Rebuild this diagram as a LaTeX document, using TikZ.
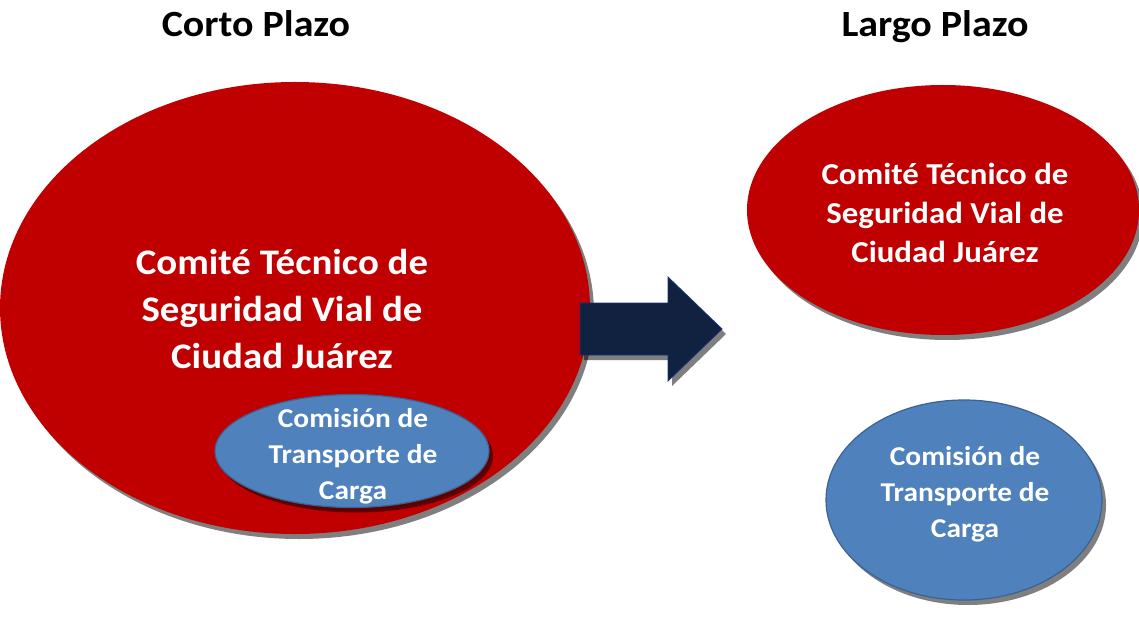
\documentclass[tikz,border=0pt]{standalone}
\usepackage{fontspec}
\setmainfont{Carlito}[FakeStretch=1.08]
\usetikzlibrary{shapes.geometric,shadows}
\definecolor{cred}{HTML}{C00000}
\definecolor{cblue}{HTML}{4F81BD}
\definecolor{cblueb}{HTML}{3A6293}
\definecolor{cnavy}{HTML}{10223F}
\definecolor{cnavyb}{HTML}{1C2F7A}
\begin{document}
\begin{tikzpicture}[x=1pt,y=-1pt,
  shad/.style={drop shadow={shadow xshift=4pt,shadow yshift=-5pt,opacity=0.5,fill=black}},
  redell/.style={ellipse,inner sep=0pt,fill=cred,shad},
  blueell/.style={ellipse,inner sep=0pt,fill=cblue,draw=cblueb,line width=1.2pt,shad},
  title/.style={font=\fontsize{37}{44}\selectfont\bfseries,text=black,anchor=base},
  bigtxt/.style={font=\fontsize{36}{47}\selectfont\bfseries,text=white,align=center},
  midtxt/.style={font=\fontsize{30.4}{39}\selectfont\bfseries,text=white,align=center},
  smalltxt/.style={font=\fontsize{27.2}{36}\selectfont\bfseries,text=white,align=center}]
\useasboundingbox (0,0) rectangle (1139,617);
\node[title] (t1) at (256,37) {Corto Plazo};
\node[title] (t2) at (935,37) {Largo Plazo};
% big red
\node[redell,minimum width=590pt,minimum height=452pt] (bigred) at (295,308) {};
\node[bigtxt] (bigtext) at (282,309) {Comité Técnico de\\Seguridad Vial de\\Ciudad Juárez};
\node[blueell,minimum width=274pt,minimum height=113pt] (smallblue) at (352,451) {};
\node[smalltxt] (smalltext) at (353,456) {Comisión de\\Transporte de\\Carga};
% arrow
\coordinate (a1) at (580,303);
\coordinate (a2) at (668,303);
\coordinate (a3) at (668,277);
\coordinate (a4) at (722,329);
\coordinate (a5) at (668,381);
\coordinate (a6) at (668,355);
\coordinate (a7) at (580,355);
\fill[black,opacity=0.5] ([shift={(4,5)}]a1) -- ([shift={(4,5)}]a2) -- ([shift={(4,5)}]a3) -- ([shift={(4,5)}]a4) -- ([shift={(4,5)}]a5) -- ([shift={(4,5)}]a6) -- ([shift={(4,5)}]a7) -- cycle;
\filldraw[fill=cnavy,draw=cnavyb,line width=0.8pt] (a1) -- (a2) -- (a3) -- (a4) -- (a5) -- (a6) -- (a7) -- cycle;
% right side
\node[redell,minimum width=392pt,minimum height=250pt] (rightred) at (943,210) {};
\node[midtxt] (righttext) at (945,213) {Comité Técnico de\\Seguridad Vial de\\Ciudad Juárez};
\node[blueell,minimum width=276pt,minimum height=200pt] (rightblue) at (964,500) {};
\node[smalltxt] (rbtext) at (965,494) {Comisión de\\Transporte de\\Carga};
\end{tikzpicture}
\end{document}
